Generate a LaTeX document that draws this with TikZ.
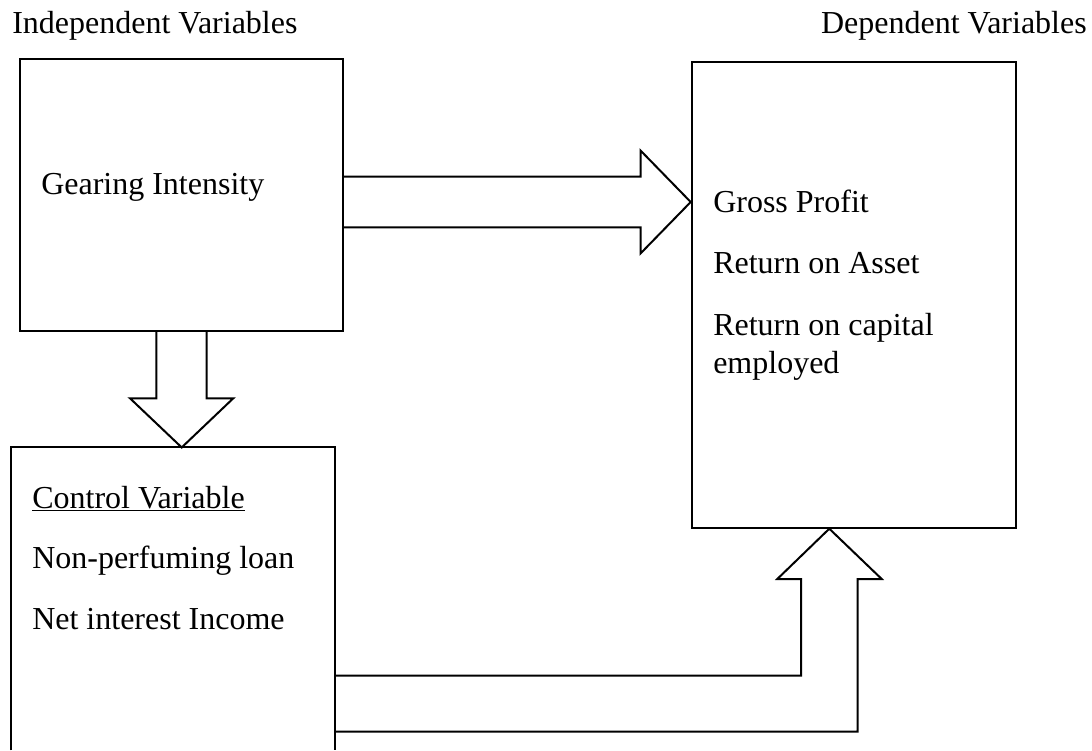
\documentclass[tikz,border=0pt]{standalone}
\usepackage{fontspec}
\setmainfont{Liberation Serif}
\usetikzlibrary{fit,calc}
\begin{document}
\begin{tikzpicture}[x=0.75pt,y=-0.75pt,
  every node/.style={font=\fontsize{24}{27.6}\selectfont, inner sep=0pt},
  box/.style={draw, line width=1.5pt, inner sep=0pt},
  txt/.style={anchor=base west},
  blockarrow/.style={draw, line width=1.5pt, line join=miter}]
\useasboundingbox (0,0) rectangle (1092,750);

% titles
\node[txt] (indep) at (12,33) {Independent Variables};
\node[anchor=base east] (depv) at (1087,33) {Dependent Variables};

% boxes
\node[box, fit={(19.5,59) (343,330.5)}] (gear) {};
\node[box, fit={(691.7,62.3) (1015.7,527.7)}] (dep) {};
\node[fit={(11,447.7) (334.4,750)}] (ctrl) {};
\draw[line width=1.5pt] (ctrl.south west) -- (ctrl.north west) -- (ctrl.north east) -- (ctrl.south east);

% texts
\node[txt] (gi) at (41,194) {Gearing Intensity};
\node[txt] (gp) at (713,212) {Gross Profit};
\node[txt] (roa) at (713,273) {Return on Asset};
\node[txt] (roc) at (713,335) {Return on capital};
\node[txt] (emp) at (713,373) {employed};
\node[txt] (cv) at (32,508) {\underline{Control Variable}};
\node[txt] (npl) at (32,568) {Non-perfuming loan};
\node[txt] (nii) at (32,629) {Net interest Income};

% arrow gearing -> dependent
\draw[blockarrow] (gear.east |- 0,176.7) -- (640.7,176.7) -- (640.7,150.7)
  -- (dep.west |- 0,202) -- (640.7,253.3) -- (640.7,227.3) -- (gear.east |- 0,227.3);

% arrow gearing -> control
\draw[blockarrow] (gear.south -| 156.3,0) -- (156.3,398.3) -- (130,398.3)
  -- (ctrl.north -| 181.7,0) -- (233.3,398.3) -- (206.7,398.3) -- (gear.south -| 206.7,0);

% arrow control -> dependent
\draw[blockarrow] (ctrl.east |- 0,731.7) -- (857.7,731.7) -- (857.7,579) -- (881.7,579)
  -- (dep.south -| 829.3,0) -- (777.3,579) -- (801,579) -- (801,675.7) -- (ctrl.east |- 0,675.7);
\end{tikzpicture}
\end{document}
